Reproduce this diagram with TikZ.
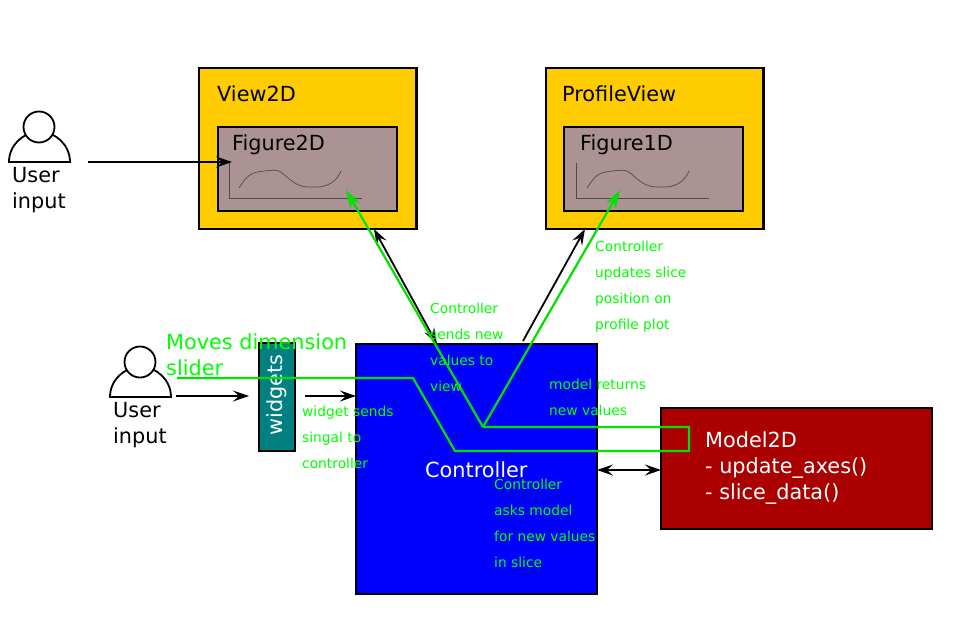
\documentclass[tikz,border=0pt]{standalone}
\usepackage{fontspec}
\setmainfont{DejaVu Sans}
\usetikzlibrary{positioning,arrows.meta,calc}
\definecolor{viewcol}{RGB}{255,204,0}
\definecolor{figcol}{RGB}{172,147,147}
\definecolor{widgetcol}{RGB}{0,128,128}
\definecolor{ctrlcol}{RGB}{0,0,255}
\definecolor{modelcol}{RGB}{170,0,0}
\definecolor{flowcol}{RGB}{0,225,0}
\definecolor{notecol}{RGB}{0,255,0}
\tikzset{
    box/.style={draw=black, line width=2.2pt, inner sep=0pt, outer sep=0pt, anchor=north west},
    title/.style={anchor=west, inner sep=0pt, font=\fontsize{20.8}{25}\selectfont},
    note/.style={anchor=north west, inner sep=0pt, text=notecol, align=left, font=\fontsize{13.8}{26}\selectfont},
    userlabel/.style={anchor=north west, inner sep=0pt, align=left, font=\fontsize{20.8}{26}\selectfont},
    blackarrow/.style={-{Stealth[length=16pt,width=11pt,inset=6pt]}, line width=1.8pt},
    greenline/.style={draw=flowcol, line width=2.2pt},
    greenarrow/.style={greenline, -{Stealth[length=18pt,width=11pt,inset=5pt]}},
    sketch/.style={draw=black!70, line width=0.7pt}
}
\begin{document}
\begin{tikzpicture}[x=1pt, y=-1pt]
\useasboundingbox (0,0) rectangle (955,616);
% Views
\node[box, fill=viewcol, minimum width=217.5pt, minimum height=161pt] (view2d) at (199,68) {};
\node[box, fill=figcol, minimum width=179pt, minimum height=84pt] (figure2d) at (218,127) {};
\node[box, fill=viewcol, minimum width=217.5pt, minimum height=161pt] (profileview) at (546,68) {};
\node[box, fill=figcol, minimum width=179pt, minimum height=84pt] (figure1d) at (564,127) {};
\node[title] (view2dlabel) at (217,94) {View2D};
\node[title] (figure2dlabel) at (232,145) {Figure2D};
\node[title] (profilelabel) at (562,94) {ProfileView};
\node[title] (figure1dlabel) at (580,145) {Figure1D};
% Small plots
\draw[sketch] (229.5,163) -- (229.5,198) -- (362,198);
\draw[sketch] (239,188) .. controls (247,176) and (250,172) .. (265,171) .. controls (280,169) and (280,171) .. (288,178) .. controls (300,188) and (305,187) .. (318,187) .. controls (332,186) and (338,178) .. (341,171);
\draw[sketch] (576.5,163) -- (576.5,198) -- (709,198);
\draw[sketch] (587,188) .. controls (595,176) and (598,172) .. (613,171) .. controls (628,169) and (628,171) .. (636,178) .. controls (648,188) and (653,187) .. (666,187) .. controls (680,186) and (686,178) .. (689,171);
% Controller, model, widgets
\node[box, fill=ctrlcol, minimum width=241pt, minimum height=250pt] (controller) at (356,344) {};
\node[box, fill=modelcol, minimum width=271pt, minimum height=121pt] (model) at (661,408) {};
\node[box, fill=widgetcol, minimum width=36pt, minimum height=108pt] (widgets) at (259,343) {};
\node[rotate=90, text=white, inner sep=0pt, font=\fontsize{20.8}{25}\selectfont] (widgetslabel) at (277,395) {widgets};
\node[title, text=white] (controllerlabel) at (425,470) {Controller};
\node[anchor=west, inner sep=0pt, text=white, align=left, font=\fontsize{20.8}{26}\selectfont] (modellabel) at (705,468) {Model2D\\- update\_axes()\\- slice\_data()};
% Users
\draw[fill=white, line width=1.8pt] (9,162) arc[start angle=180, end angle=0, x radius=30.5pt, y radius=30pt] -- cycle;
\node[circle, draw, fill=white, line width=1.8pt, minimum size=31pt, inner sep=0pt] (user1) at (39,127) {};
\node[userlabel] (user1label) at (12,167) {User\\input};
\draw[fill=white, line width=1.8pt] (110,397) arc[start angle=180, end angle=0, x radius=30.5pt, y radius=30pt] -- cycle;
\node[circle, draw, fill=white, line width=1.8pt, minimum size=31pt, inner sep=0pt] (user2) at (140,362) {};
\node[userlabel] (user2label) at (113,402) {User\\input};
\coordinate (user1out) at (88,162);
\coordinate (user2out) at (176,396);
\coordinate (widgetsin) at (249,396);
\coordinate (widgetsout) at (305,396);
\coordinate (controllerleft) at (356,396);
\coordinate (fig2dtip) at (232,162);
% Connections
\draw[blackarrow] (user1out) -- (fig2dtip);
\draw[blackarrow] (user2out) -- (widgetsin);
\draw[blackarrow] (widgetsout) -- (controllerleft);
\draw[blackarrow, {Stealth[length=16pt,width=11pt,inset=6pt]}-{Stealth[length=16pt,width=11pt,inset=6pt]}] (437,344) -- (374,229);
\draw[blackarrow] (523,341) -- (585,229);
\draw[blackarrow, {Stealth[length=16pt,width=11pt,inset=6pt]}-{Stealth[length=16pt,width=11pt,inset=6pt]}] (controller.east |- 0,470) -- (model.west |- 0,470);
% Signal path
\coordinate (slidestart) at (177,378);
\coordinate (bendtop) at (413,378);
\coordinate (bendlow) at (455,451);
\coordinate (loopb) at (689,451);
\coordinate (loopt) at (689,427);
\coordinate (fork) at (483,427);
\draw[greenline] (slidestart) -- (bendtop) -- (bendlow) -- (loopb) -- (loopt) -- (fork);
\draw[greenarrow] (fork) -- (346,190);
\draw[greenarrow] (fork) -- (620,190);
% Green notes
\node[anchor=north west, inner sep=0pt, text=notecol, align=left, font=\fontsize{20.8}{26}\selectfont] (movesnote) at (166,333) {Moves dimension\\slider};
\node[note] (viewnote) at (430,303) {Controller\\sends new\\values to\\view};
\node[note] (profilenote) at (595,241) {Controller\\updates slice\\position on\\profile plot};
\node[note] (widgetnote) at (302,406) {widget sends\\singal to\\controller};
\node[note] (returnnote) at (549,379) {model returns\\new values};
\node[note] (asknote) at (494,479) {Controller\\asks model\\for new values\\in slice};
\end{tikzpicture}
\end{document}
